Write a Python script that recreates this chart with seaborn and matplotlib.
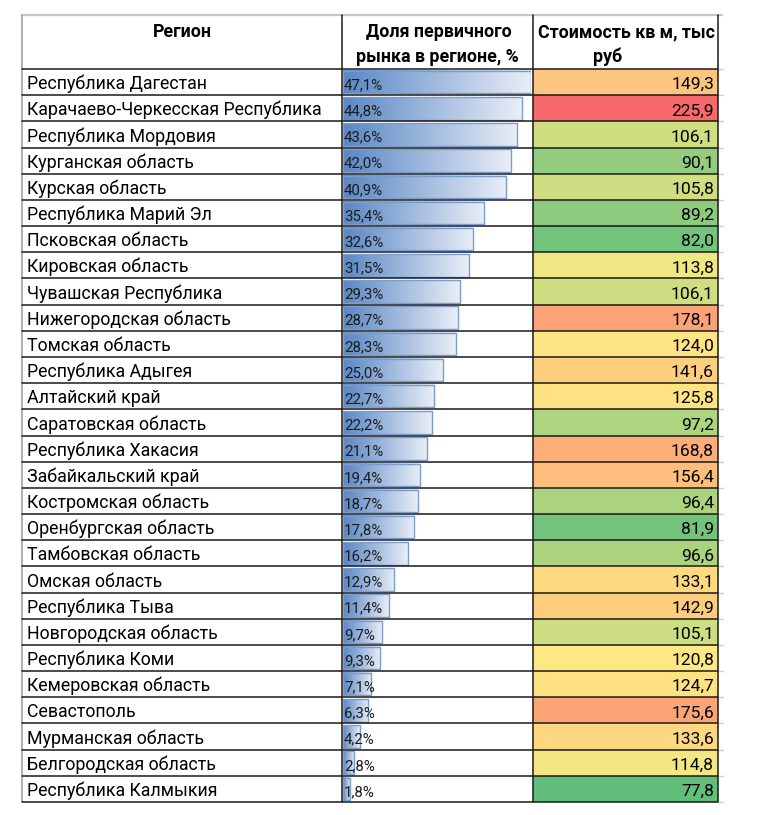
import numpy as np
import matplotlib
matplotlib.use('Agg')
import matplotlib.pyplot as plt
from matplotlib.colors import LinearSegmentedColormap
import seaborn as sns

# Table data
regions = [
    'Республика Дагестан', 'Карачаево-Черкесская Республика', 'Республика Мордовия',
    'Курганская область', 'Курская область', 'Республика Марий Эл', 'Псковская область',
    'Кировская область', 'Чувашская Республика', 'Нижегородская область', 'Томская область',
    'Республика Адыгея', 'Алтайский край', 'Саратовская область', 'Республика Хакасия',
    'Забайкальский край', 'Костромская область', 'Оренбургская область', 'Тамбовская область',
    'Омская область', 'Республика Тыва', 'Новгородская область', 'Республика Коми',
    'Кемеровская область', 'Севастополь', 'Мурманская область', 'Белгородская область',
    'Республика Калмыкия',
]
share = [47.1, 44.8, 43.6, 42.0, 40.9, 35.4, 32.6, 31.5, 29.3, 28.7, 28.3, 25.0, 22.7, 22.2,
         21.1, 19.4, 18.7, 17.8, 16.2, 12.9, 11.4, 9.7, 9.3, 7.1, 6.3, 4.2, 2.8, 1.8]
price = [149.3, 225.9, 106.1, 90.1, 105.8, 89.2, 82.0, 113.8, 106.1, 178.1, 124.0, 141.6,
         125.8, 97.2, 168.8, 156.4, 96.4, 81.9, 96.6, 133.1, 142.9, 105.1, 120.8, 124.7,
         175.6, 133.6, 114.8, 77.8]

header_region = 'Регион'
header_share = ['Доля первичного', 'рынка в регионе, %']
header_price = ['Стоимость кв м, тыс', 'руб']

# Layout in pixels
W, H = 770, 815
x_left, x_c2, x_c3, x_right = 22, 342, 533, 718
y_top, y_head, y_bottom = 15, 69, 802
n = len(regions)
row_h = (y_bottom - y_head) / n

sns.set_theme(style='white')
plt.rcParams['font.family'] = ['Roboto', 'DejaVu Sans']

fig = plt.figure(figsize=(W / 100, H / 100), dpi=100)


def box(x0, x1, y0, y1):
    return [x0 / W, 1 - y1 / H, (x1 - x0) / W, (y1 - y0) / H]


# Price column: Excel-like 3-colour scale (green - yellow at median - red)
pmin, pmed, pmax = min(price), np.median(price), max(price)
scale = LinearSegmentedColormap.from_list(
    'excel3', [(0, '#63BE7B'), ((pmed - pmin) / (pmax - pmin), '#FFEB84'), (1, '#F8696B')])
hax = fig.add_axes(box(x_c3, x_right, y_head, y_bottom))
sns.heatmap(np.array(price).reshape(-1, 1), ax=hax, cmap=scale, cbar=False,
            xticklabels=False, yticklabels=False)

# Share column: gradient data bars
bax = fig.add_axes(box(x_c2 + 1, 531, y_head, y_bottom))
sns.barplot(x=share, y=regions, orient='h', ax=bax, width=0.86, color='#638EC6')
fade = LinearSegmentedColormap.from_list('fade', ['#5A87C4', '#E9EEF7'])
grad = np.linspace(0, 1, 256).reshape(1, -1)
for p in bax.patches:
    x0, y0 = p.get_x(), p.get_y()
    w, h = p.get_width(), p.get_height()
    bax.imshow(grad, extent=[x0, x0 + w, y0 + h, y0], cmap=fade, aspect='auto', zorder=1)
    p.set_facecolor('none')
    p.set_edgecolor('#7A9DD0')
    p.set_linewidth(1.0)
    p.set_zorder(2)
bax.set_xlim(0, max(share))
bax.set_ylim(n - 0.5, -0.5)
bax.axis('off')

# Overlay for grid lines and text
ax = fig.add_axes([0, 0, 1, 1], zorder=5)
ax.set_xlim(0, W)
ax.set_ylim(H, 0)
ax.axis('off')

ax.plot([x_left, x_right + 4], [y_top, y_top], color='#c6c6c6', lw=1.6)
ax.plot([x_left, x_left], [y_top, y_bottom], color='#9a9a9a', lw=1.1)
for i in range(n + 1):
    y = y_head + i * row_h
    ax.plot([x_left, x_right], [y, y], color='#1a1a1a', lw=1.1)
    ax.plot([x_right, x_right + 5], [y, y], color='#d0d0d0', lw=1.0)
for x in (x_c2, x_c3, x_right):
    ax.plot([x, x], [y_top, y_bottom], color='#1a1a1a', lw=1.1)

# Header
hkw = dict(fontsize=12.8, fontweight='bold', color='black', ha='center', va='baseline')
ax.text((x_left + x_c2) / 2, 37, header_region, **hkw)
ax.text((x_c2 + x_c3) / 2 + 1, 37, header_share[0], **hkw)
ax.text((x_c2 + x_c3) / 2, 62, header_share[1], **hkw)
ax.text((x_c3 + x_right) / 2 + 1, 37, header_price[0], **hkw)
ax.text(608, 62, header_price[1], **hkw)

# Rows
for i, (r, s, v) in enumerate(zip(regions, share, price)):
    base = y_head + (i + 1) * row_h - 6
    ax.text(x_left + 5, base, r, fontsize=12.8, color='black', va='baseline')
    ax.text(x_c2 + 2, base, f'{s:.1f}%'.replace('.', ','), fontsize=10.8,
            color='#1c1c1c', va='baseline')
    ax.text(x_right - 4, base, f'{v:.1f}'.replace('.', ','), fontsize=12.6,
            color='black', ha='right', va='baseline')

fig.savefig('out.png', dpi=100, facecolor='white')
